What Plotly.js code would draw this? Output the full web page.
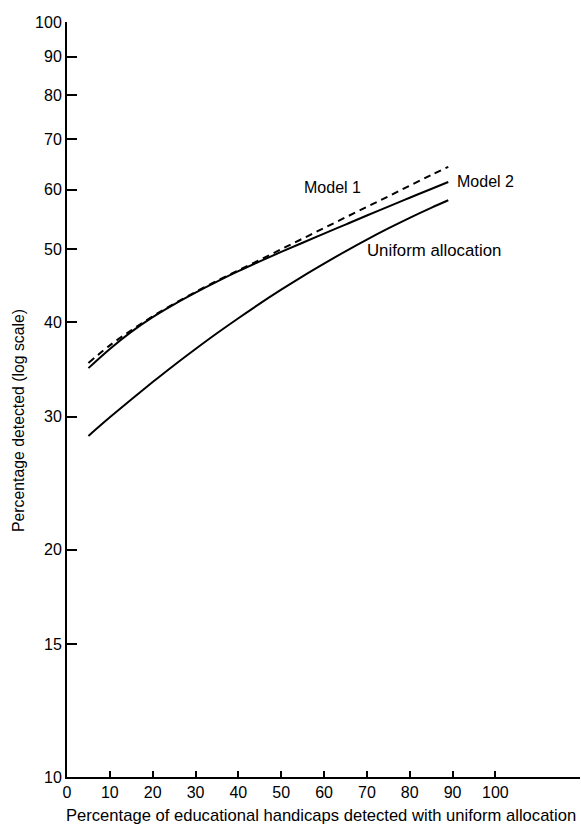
<!DOCTYPE html>
<html>
<head>
<meta charset="utf-8">
<script src="https://cdn.plot.ly/plotly-3.0.1.min.js"></script>
<style>
html,body{margin:0;padding:0;background:#fff;}
#chart{width:581px;height:830px;}
</style>
</head>
<body>
<div id="chart"></div>
<script>
const xValues = [5, 10, 15, 20, 25, 30, 35, 40, 45, 50, 55, 60, 65, 70, 75, 80, 85, 89];
const model1 = [35.35, 37.3, 39.05, 40.75, 42.35, 43.9, 45.4, 46.9, 48.4, 50.0, 51.65, 53.35, 55.1, 56.9, 58.75, 60.7, 62.7, 64.3];
const model2 = [34.8, 36.9, 38.87, 40.66, 42.28, 43.82, 45.31, 46.77, 48.19, 49.6, 51.01, 52.44, 53.91, 55.42, 56.94, 58.51, 60.09, 61.38];
const uniform = [28.3, 29.95, 31.63, 33.35, 35.11, 36.89, 38.7, 40.52, 42.36, 44.2, 46.04, 47.86, 49.69, 51.5, 53.28, 55.03, 56.73, 58.06];
const xTicks = [0, 10, 20, 30, 40, 50, 60, 70, 80, 90, 100];
const yTicks = [10, 15, 20, 30, 40, 50, 60, 70, 80, 90, 100];
const seriesLabels = ["Model 1", "Model 2", "Uniform allocation"];
const xTitle = "Percentage of educational handicaps detected with uniform allocation";
const yTitle = "Percentage detected (log scale)";

const FONT = "'Liberation Sans', Arial, sans-serif";

const traces = [
  {x: xValues, y: model1, mode: 'lines', line: {color: '#000', width: 2, dash: '7px,5px', shape: 'spline'}, name: seriesLabels[0]},
  {x: xValues, y: model2, mode: 'lines', line: {color: '#000', width: 2, shape: 'spline'}, name: seriesLabels[1]},
  {x: xValues, y: uniform, mode: 'lines', line: {color: '#000', width: 2, shape: 'spline'}, name: seriesLabels[2]}
];

const layout = {
  width: 581, height: 830,
  margin: {l: 67, r: 1, t: 22, b: 53},
  paper_bgcolor: '#fff', plot_bgcolor: '#fff',
  showlegend: false,
  font: {family: FONT, size: 16, color: '#000'},
  xaxis: {
    range: [0, 119.75], showgrid: false, zeroline: false,
    showline: true, linecolor: '#000', linewidth: 2,
    ticks: 'inside', ticklen: 6, tickwidth: 2, tickcolor: '#000',
    tickvals: xTicks, ticktext: xTicks.map(String),
    tickfont: {family: FONT, size: 16, color: '#000'}
  },
  yaxis: {
    type: 'log', range: [1, 2], showgrid: false, zeroline: false,
    showline: true, linecolor: '#000', linewidth: 2,
    ticks: 'inside', ticklen: 10, tickwidth: 2, tickcolor: '#000',
    tickvals: yTicks, ticktext: yTicks.map(String),
    tickfont: {family: FONT, size: 16, color: '#000'}
  },
  annotations: [
    {x: 62.0, y: Math.log10(60.3), xref: 'x', yref: 'y', text: seriesLabels[0], showarrow: false, xanchor: 'center', yanchor: 'middle', font: {family: FONT, size: 16, color: '#000'}},
    {x: 90.5, y: Math.log10(61.4), xref: 'x', yref: 'y', text: seriesLabels[1], showarrow: false, xanchor: 'left', yanchor: 'middle', font: {family: FONT, size: 16, color: '#000'}},
    {x: 69.5, y: Math.log10(49.8), xref: 'x', yref: 'y', text: seriesLabels[2], showarrow: false, xanchor: 'left', yanchor: 'middle', font: {family: FONT, size: 16.8, color: '#000'}},
    {x: 0, y: 0, xref: 'paper', yref: 'paper', text: xTitle, showarrow: false, xanchor: 'center', yanchor: 'middle', font: {family: FONT, size: 16.6, color: '#000'}},
    {x: 0, y: 0, xref: 'paper', yref: 'paper', text: yTitle, showarrow: false, textangle: -90, xanchor: 'center', yanchor: 'middle', font: {family: FONT, size: 15.8, color: '#000'}}
  ]
};

// place the axis titles at their pixel positions, expressed in paper coordinates
const plotW = 581 - 67 - 1, plotH = 830 - 22 - 53;
layout.annotations[3].x = (321 - 67) / plotW;
layout.annotations[3].y = 1 - (815 - 22) / plotH;
layout.annotations[4].x = (18 - 67) / plotW;
layout.annotations[4].y = 1 - (421 - 22) / plotH;

Plotly.newPlot('chart', traces, layout, {displayModeBar: false, staticPlot: true});
</script>
</body>
</html>
